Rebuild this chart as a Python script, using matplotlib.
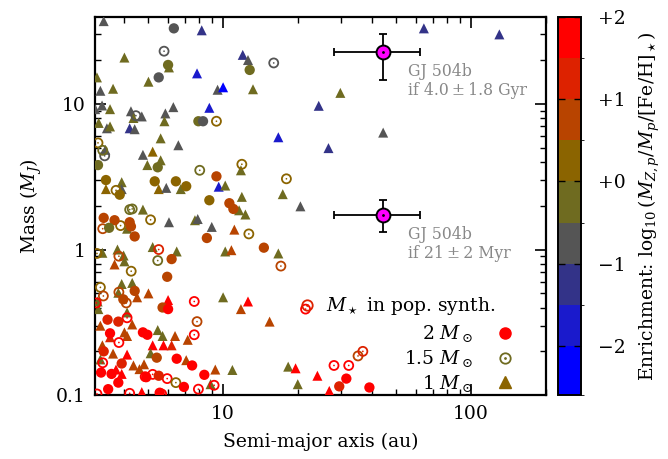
import numpy as np
import matplotlib
matplotlib.use("Agg")
import matplotlib.pyplot as plt
from matplotlib.colors import ListedColormap, BoundaryNorm
from matplotlib.lines import Line2D
from matplotlib.ticker import FuncFormatter, LogLocator, NullFormatter

plt.rcParams['font.family'] = ['DejaVu Serif']
plt.rcParams['mathtext.fontset'] = 'dejavuserif'

# enrichment bands (log10 of metal enrichment) and their colours, bottom to top
bounds = [-2.6, -2.0, -1.5, -1.0, -0.5, 0.0, 0.5, 1.0, 1.5, 2.0]
band_colors = ['#0000ff', '#1a1acc', '#333388', '#555555', '#6f6b20',
               '#8b6400', '#b84400', '#dd2200', '#ff0000']
cbar_ticks = [-2, -1, 0, 1, 2]
cbar_ticklabels = ['\u22122', '\u22121', '+0', '+1', '+2']

# population synthesis, host star 2 Msun (filled circles): a [au], mass [MJ], enrichment
a_2 = [6.33, 6.0, 5.5, 7.95, 8.3, 12.8, 3.13, 5.45, 9.4, 5.3, 6.45, 7.1, 3.37, 3.83,
       8.8, 10.6, 11.0, 8.6, 3.3, 3.65, 4.2, 4.25, 4.4, 3.47, 14.6, 6.2, 5.95, 3.96,
       4.4, 5.7, 6.0, 3.42, 3.78, 4.75, 4.95, 3.5, 6.5, 7.5, 8.4, 5.4, 3.78, 3.44,
       3.22, 4.9, 5.5, 6.95, 5.55, 29.4, 31.4, 38.9, 3.3, 3.55, 3.9]
m_2 = [33, 18.5, 15.2, 7.6, 7.6, 17.1, 3.8, 3.67, 3.18, 2.94, 2.94, 2.72, 3.0, 2.38,
       2.18, 2.08, 1.9, 1.2, 1.65, 1.59, 1.54, 1.44, 1.23, 1.41, 1.03, 0.86, 0.65, 0.455,
       0.52, 0.40, 0.39, 0.33, 0.32, 0.27, 0.26, 0.266, 0.178, 0.16, 0.138, 0.181, 0.122, 0.11,
       0.143, 0.133, 0.136, 0.114, 0.104, 0.115, 0.13, 0.113, 0.2, 0.14, 0.165]
e_2 = [-0.75, -0.25, -0.75, -0.25, -0.75, -0.25, -0.25, -0.25, 0.75, 0.25, 0.25, 0.25, 0.25, 0.25,
       0.25, 0.75, 0.75, 0.75, 0.75, 0.75, 0.75, 0.75, 0.75, -0.25, 0.75, 0.75, 0.75, 0.75,
       0.75, 0.75, 1.75, 1.25, 1.25, 1.75, 1.75, 1.75, 1.75, 1.75, 1.75, 0.75, 1.75, 1.75,
       1.75, 1.75, 1.25, 1.75, 1.75, 1.25, 1.75, 1.75, 1.25, 1.75, 1.25]

# host star 1.5 Msun (open circles with dot)
a_15 = [5.78, 4.45, 9.4, 3.13, 3.33, 3.27, 8.05, 11.9, 18.0, 3.7, 16.0, 4.2, 4.3, 5.1,
        12.7, 17.1, 3.27, 3.86, 3.1, 3.8, 5.5, 5.45, 4.26, 3.2, 3.29, 3.08, 4.07, 3.8,
        7.65, 21.5, 7.85, 7.65, 3.8, 4.1, 3.27, 5.2, 4.85, 5.95, 6.45, 7.95, 9.2, 3.1,
        4.2, 5.65, 28.0, 32.1, 35.0, 36.6]
m_15 = [23, 8.3, 7.6, 5.4, 4.4, 4.8, 3.5, 3.85, 3.06, 2.55, 19.1, 1.88, 1.9, 1.6,
        1.28, 0.77, 1.39, 1.46, 0.94, 0.9, 1.0, 0.84, 0.71, 0.55, 0.48, 0.43, 0.43, 0.51,
        0.44, 0.39, 0.32, 0.26, 0.23, 0.34, 0.167, 0.139, 0.134, 0.13, 0.122, 0.11, 0.117, 0.102,
        0.103, 0.102, 0.16, 0.16, 0.186, 0.2]
e_15 = [-0.75, -0.75, 0.25, 0.25, -0.75, -0.25, -0.25, 0.25, 0.25, 0.25, -0.75, -0.25, -0.25, 0.25,
        0.25, 0.75, 0.75, 0.25, 0.25, 0.75, 1.25, -0.25, 0.25, 0.25, 0.75, 1.75, 0.75, 0.75,
        1.75, 1.75, 0.75, 1.75, 1.75, 1.75, 1.75, 1.75, 1.75, 1.75, 0.25, 1.75, 1.75, 1.75,
        1.75, 1.75, 1.75, 1.75, 0.75, 1.25]

# host star 1 Msun (triangles)
a_1 = [3.3, 8.2, 4.0, 6.05, 5.0, 3.1, 7.85, 3.2, 3.6, 9.5, 10.0, 3.05, 3.25, 3.5,
       4.25, 4.35, 4.7, 5.85, 6.3, 5.8, 8.8, 3.15, 3.4, 4.2, 4.4, 3.5, 5.6, 6.6,
       3.35, 4.75, 5.2, 4.95, 5.6, 11.8, 9.6, 10.2, 17.4, 5.5, 5.9, 6.75, 3.9, 3.9,
       3.37, 12.0, 12.6, 13.2, 16.7, 44.2, 26.6, 64.5, 130, 29.7, 24.3, 11.9, 20.5, 11.6,
       12.3, 4.75, 6.05, 7.7, 7.9, 9.0, 11.1, 4.1, 16.7, 10.2, 10.8, 3.26, 3.75, 3.97,
       4.0, 3.65, 5.2, 6.5, 3.9, 4.3, 4.5, 5.0, 3.78, 6.0, 10.0, 12.6, 11.8, 15.4,
       3.14, 3.12, 4.1, 4.3, 6.4, 7.2, 5.45, 5.7, 3.26, 3.6, 4.1, 4.0, 5.2, 5.75,
       6.2, 4.1, 7.1, 9.3, 10.9, 18.3, 19.6, 24.0, 20.0, 8.9, 4.7, 3.2, 5.1, 4.35,
       4.8, 4.6, 3.7, 26.8, 3.9, 3.2, 3.5]
m_1 = [37, 32, 20.8, 17.8, 14.2, 15.2, 16.2, 12.3, 12.7, 12.5, 13.0, 9.2, 9.75, 9.2,
       8.9, 8.0, 8.2, 8.6, 9.5, 7.6, 9.4, 7.4, 6.8, 6.8, 6.7, 7.0, 5.8, 5.2,
       4.84, 4.47, 4.7, 3.8, 4.1, 3.5, 2.7, 2.75, 2.4, 2.6, 2.65, 2.6, 2.9, 2.6,
       2.6, 21.7, 20.0, 12.6, 5.9, 6.35, 4.97, 33, 30, 11.9, 9.7, 2.3, 1.98, 1.86,
       1.74, 1.88, 1.54, 1.59, 1.62, 1.43, 1.37, 1.39, 0.94, 0.97, 0.99, 0.95, 1.0, 0.91,
       0.83, 0.79, 1.04, 0.97, 0.58, 0.59, 0.47, 0.5, 0.505, 0.45, 0.47, 0.44, 0.39, 0.32,
       0.39, 0.44, 0.37, 0.306, 0.255, 0.24, 0.28, 0.255, 0.22, 0.193, 0.255, 0.27, 0.22, 0.22,
       0.22, 0.19, 0.174, 0.15, 0.149, 0.157, 0.153, 0.136, 0.119, 0.119, 0.105, 0.176, 0.194, 0.16,
       0.163, 0.151, 0.15, 0.107, 0.14, 0.3, 0.25]
e_1 = [-0.75, -1.25, -0.25, -0.25, -0.25, -0.25, -1.75, -0.75, -0.25, -0.75, -2.3, -0.75, -0.75, -0.25,
       -0.75, -0.25, -0.75, -0.75, -0.75, -0.25, -1.75, -0.25, -0.75, -1.25, -0.75, -0.25, -0.25, -0.75,
       -0.75, -0.75, 0.25, -0.25, -0.25, -0.25, -1.75, -0.25, -0.25, 0.25, -0.75, -0.25, -0.25, -0.75,
       0.25, -1.25, -0.75, -0.25, -1.75, -0.75, -1.25, -1.25, -1.25, -0.25, -1.25, -0.25, -0.75, -0.25,
       -0.25, -0.25, -0.75, -0.25, -0.75, -0.75, 0.75, -0.25, -0.25, -0.25, 0.75, -0.25, -0.25, -0.25,
       -0.25, 0.75, -0.25, -0.25, -0.25, -0.25, 0.75, 0.75, -0.25, 1.75, -0.25, 1.75, 0.75, 0.75,
       -0.25, -0.25, -0.25, 0.75, 0.75, 0.75, -0.25, -0.25, 0.75, 0.75, 0.75, 0.75, 1.75, 1.75,
       1.25, 1.75, 0.75, 0.75, -0.25, -0.25, 1.75, 1.75, -0.25, -0.25, 1.75, -0.25, -0.25, 0.75,
       0.75, 0.75, 1.75, 1.75, 1.75, 0.75, 1.25]

# GJ 504b for the two age hypotheses
gj_a = [44.0, 44.0]
gj_m = [22.7, 1.72]
gj_a_err = [[16.0, 16.0], [18.5, 18.5]]
gj_m_err = [[8.0, 0.41], [7.6, 0.48]]
gj_labels = ['GJ 504b\nif 4.0\u2009\u00b1\u20091.8 Gyr', 'GJ 504b\nif 21\u2009\u00b1\u20092 Myr']

cmap = ListedColormap(band_colors)
norm = BoundaryNorm(bounds, cmap.N)

fig = plt.figure(figsize=(6.68, 4.59), dpi=100)
ax = fig.add_axes([0.142, 0.139, 0.675, 0.824])
cax = fig.add_axes([0.835, 0.139, 0.035, 0.824])

ax.scatter(a_1, m_1, c=e_1, cmap=cmap, norm=norm, marker='^', s=52, linewidths=0, zorder=3)
c15 = cmap(norm(e_15))
ax.scatter(a_15, m_15, facecolors='none', edgecolors=c15, marker='o', s=42, linewidths=1.3, zorder=3)
ax.scatter(a_15, m_15, color=c15, marker='o', s=1.5, linewidths=0, zorder=3)
ax.scatter(a_2, m_2, c=e_2, cmap=cmap, norm=norm, marker='o', s=55, linewidths=0, zorder=3)

# GJ 504b
ax.errorbar(gj_a, gj_m, xerr=gj_a_err, yerr=gj_m_err, fmt='none', ecolor='black',
            elinewidth=1.3, capsize=3, capthick=1.3, zorder=4)
ax.plot(gj_a, gj_m, 'o', ms=10, mfc='magenta', mec='black', mew=1.4, ls='none', zorder=5)
ax.plot(gj_a, gj_m, '.', ms=2, color='black', ls='none', zorder=6)
for x, y, lab in zip(gj_a, gj_m, gj_labels):
    ax.annotate(lab, (x, y), xytext=(18, -8), textcoords='offset points',
                ha='left', va='top', fontsize=11.3, color='#888888', linespacing=1.15)

ax.set_xscale('log')
ax.set_yscale('log')
ax.set_xlim(3.04, 200)
ax.set_ylim(0.1, 39.5)

fmt = FuncFormatter(lambda v, p: f'{v:g}')
ax.xaxis.set_major_formatter(fmt)
ax.yaxis.set_major_formatter(fmt)
ax.xaxis.set_minor_formatter(NullFormatter())
ax.yaxis.set_minor_formatter(NullFormatter())
ax.xaxis.set_minor_locator(LogLocator(subs=np.arange(2, 10)))
ax.yaxis.set_minor_locator(LogLocator(subs=np.arange(2, 10)))

ax.tick_params(which='both', direction='in', top=True, right=True, labelsize=13.5)
ax.tick_params(which='major', length=8, width=1.2, pad=7)
ax.tick_params(which='minor', length=4, width=1.0)
for sp in ax.spines.values():
    sp.set_linewidth(1.6)

ax.set_xlabel('Semi-major axis (au)', fontsize=13.5, labelpad=7)
ax.set_ylabel('Mass ($M_J$)', fontsize=13.5, labelpad=8)

# legends
red_open = (Line2D([], [], marker='o', ls='none', mfc='none', mec='#dd2200', mew=1.3, ms=7.5),
            Line2D([], [], marker='.', ls='none', color='#dd2200', ms=2))
leg1 = ax.legend([red_open], [r'$M_\star$ in pop. synth.'], loc='center left',
                 bbox_to_anchor=(0.45, 0.235), frameon=False, fontsize=13.5,
                 handlelength=1.0, handletextpad=0.5, borderpad=0, borderaxespad=0)
ax.add_artist(leg1)

h2 = Line2D([], [], marker='o', ls='none', color='#ff0000', ms=8)
h15 = (Line2D([], [], marker='o', ls='none', mfc='none', mec='#6f6b20', mew=1.3, ms=7.5),
       Line2D([], [], marker='.', ls='none', color='#6f6b20', ms=2))
h1 = Line2D([], [], marker='^', ls='none', color='#8b6400', ms=8)
ax.legend([h2, h15, h1], [r'2 $M_\odot$', r'1.5 $M_\odot$', r'1 $M_\odot$'],
          loc='upper right', bbox_to_anchor=(0.93, 0.19), frameon=False, fontsize=13.5,
          markerfirst=False, handlelength=1.0, handletextpad=1.2, labelspacing=0.2,
          borderpad=0, borderaxespad=0)

# colorbar
cb = fig.colorbar(matplotlib.cm.ScalarMappable(norm=norm, cmap=cmap), cax=cax,
                  boundaries=bounds, ticks=cbar_ticks, spacing='proportional')
cb.ax.set_yticklabels(cbar_ticklabels)
cb.ax.tick_params(direction='in', length=5, width=1.0, left=True, right=True, labelsize=13.5, pad=12)
cb.outline.set_linewidth(1.4)
cb.set_label(r'Enrichment: $\log_{10}\left(M_{Z,p}/M_p/[\mathrm{Fe/H}]_\star\right)$',
             fontsize=13.5, labelpad=8)

fig.savefig('out.png', dpi=100)
